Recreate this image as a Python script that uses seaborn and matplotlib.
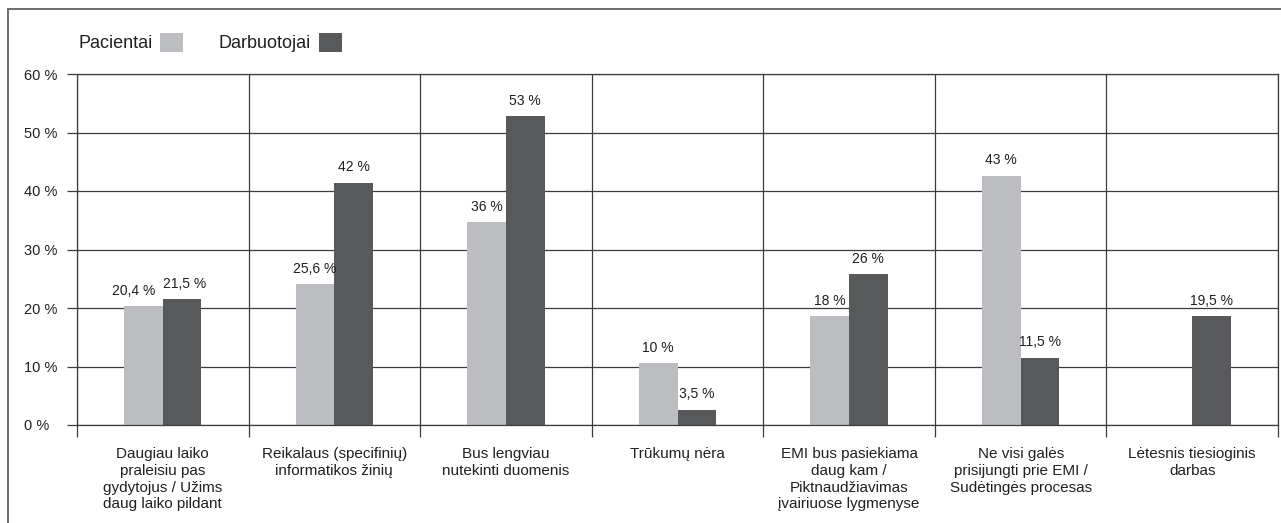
import numpy as np
import pandas as pd
import matplotlib
matplotlib.use("Agg")
import matplotlib.pyplot as plt
from matplotlib.lines import Line2D
import seaborn as sns

# ---------------- data ----------------
categories = [
    "Daugiau laiko\npraleisiu pas\ngydytojus / Užims\ndaug laiko pildant",
    "Reikalaus (specifinių)\ninformatikos žinių",
    "Bus lengviau\nnutekinti duomenis",
    "Trūkumų nėra",
    "EMI bus pasiekiama\ndaug kam /\nPiktnaudžiavimas\nįvairiuose lygmenyse",
    "Ne visi galės\nprisijungti prie EMI /\nSudėtingės procesas",
    "Lėtesnis tiesioginis\ndarbas",
]
groups = ["Pacientai", "Darbuotojai"]
pacientai = [20.3, 24.1, 34.7, 10.6, 18.6, 42.6, np.nan]
darbuotojai = [21.5, 41.4, 52.8, 2.6, 25.8, 11.5, 18.6]
pacientai_labels = ["20,4 %", "25,6 %", "36 %", "10 %", "18 %", "43 %", ""]
darbuotojai_labels = ["21,5 %", "42 %", "53 %", "3,5 %", "26 %", "11,5 %", "19,5 %"]
yticks = [0, 10, 20, 30, 40, 50, 60]
ytick_labels = ["0 %", "10 %", "20 %", "30 %", "40 %", "50 %", "60 %"]

# ---------------- style ----------------
light = "#bcbdc0"
dark = "#58595b"
line_c = "#3c3c3c"
text_c = "#231f20"

sns.set_theme(style="white")
plt.rcParams["font.family"] = ["Liberation Sans", "DejaVu Sans"]
plt.rcParams["text.color"] = text_c

W, H = 1281, 523
fig = plt.figure(figsize=(W / 100, H / 100), dpi=100)
fig.patch.set_facecolor("white")
ax = fig.add_axes([77 / W, 1 - 425 / H, (1278 - 77) / W, (425 - 74) / H])

df = pd.DataFrame({
    "kategorija": categories * 2,
    "grupe": [groups[0]] * len(categories) + [groups[1]] * len(categories),
    "reiksme": pacientai + darbuotojai,
})

sns.barplot(data=df, x="kategorija", y="reiksme", hue="grupe", order=categories,
            hue_order=groups, palette=[light, dark], width=0.45, saturation=1,
            errorbar=None, ax=ax, linewidth=0)

ax.set_xlim(-0.5, len(categories) - 0.5)
ax.set_ylim(0, 60)
ax.set_xlabel("")
ax.set_ylabel("")

# value labels
all_labels = [pacientai_labels, darbuotojai_labels]
all_vals = [pacientai, darbuotojai]
for ci, cont in enumerate(ax.containers):
    vals = all_vals[ci]
    labs = all_labels[ci]
    if len(cont) == len(vals):
        use = labs
    else:
        use = [l for v, l in zip(vals, labs) if not np.isnan(v)]
    anns = ax.bar_label(cont, labels=use, padding=6, fontsize=10, color=text_c)
    if ci == 0 and len(anns) > 0:
        anns[0].xyann = (-7, 6)
    if ci == 1 and len(anns) > 0:
        anns[0].xyann = (2, 6)

# y axis
ax.set_yticks(yticks)
ax.set_yticklabels(ytick_labels, fontsize=10.5, color=text_c)
for lab in ax.get_yticklabels():
    lab.set_horizontalalignment("left")
ax.tick_params(axis="y", which="major", left=True, length=7.2, width=0.9,
               color=line_c, pad=31, direction="out")

# x axis
ax.set_xticks(range(len(categories)))
ax.set_xticklabels(categories, fontsize=11, color=text_c, linespacing=1.25)
ax.set_xticks(np.arange(-0.5, len(categories), 1), minor=True)
ax.tick_params(axis="x", which="major", bottom=True, length=0, pad=16)
ax.tick_params(axis="x", which="minor", bottom=True, length=8.6, width=0.9,
               color=line_c, direction="out")

# grid
ax.grid(False)
ax.grid(True, which="major", axis="y", color=line_c, linewidth=0.9)
ax.grid(True, which="minor", axis="x", color=line_c, linewidth=0.9)
ax.set_axisbelow(True)
for s in ax.spines.values():
    s.set_visible(True)
    s.set_color(line_c)
    s.set_linewidth(0.9)

# legend: text first, square swatch after
handles, labels = ax.get_legend_handles_labels()
if ax.legend_ is not None:
    ax.legend_.remove()
fig.legend(handles, labels, loc="center left",
           bbox_to_anchor=(78 / W, 1 - 42.5 / H), bbox_transform=fig.transFigure,
           ncol=2, frameon=False, markerfirst=False, fontsize=13,
           handlelength=1.28, handleheight=1.28, handletextpad=0.45,
           columnspacing=1.95, borderpad=0, borderaxespad=0)

# outer frame (top and left edges visible)
fig.add_artist(Line2D([8 / W, 1], [1 - 9 / H, 1 - 9 / H], transform=fig.transFigure,
                      color="#555555", linewidth=1.2))
fig.add_artist(Line2D([8 / W, 8 / W], [0, 1 - 9 / H], transform=fig.transFigure,
                      color="#555555", linewidth=1.2))

fig.savefig("out.png", dpi=100, facecolor="white")
